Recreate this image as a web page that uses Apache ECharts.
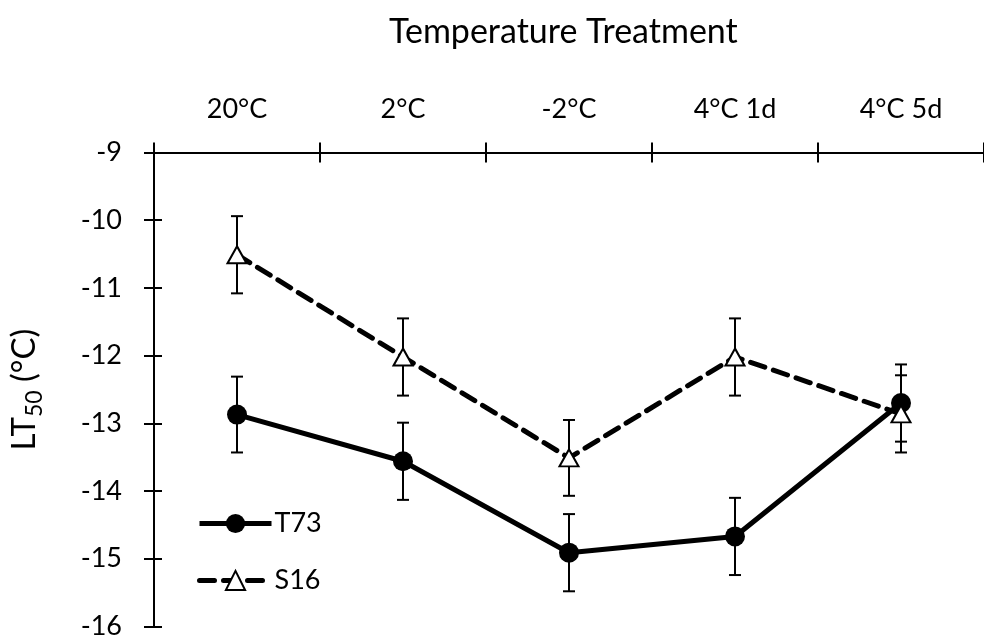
<!DOCTYPE html>
<html>
<head>
<meta charset="utf-8">
<script src="https://cdn.jsdelivr.net/npm/echarts@6/dist/echarts.min.js"></script>
<style>html,body{margin:0;padding:0;background:#fff}#c{width:984px;height:640px}</style>
</head>
<body>
<div id="c"></div>
<script>
const categories = ['20°C', '2°C', '-2°C', '4°C 1d', '4°C 5d'];
const t73 = [-12.87, -13.56, -14.91, -14.67, -12.70];
const t73Err = [0.56, 0.57, 0.57, 0.57, 0.57];
const s16 = [-10.51, -12.02, -13.51, -12.02, -12.86];
const s16Err = [0.57, 0.57, 0.56, 0.57, 0.57];
const yMin = -16, yMax = -9, yStep = 1;

const FONT = 'Lato';
const chart = echarts.init(document.getElementById('c'));

function errData(vals, errs) {
  return vals.map((v, i) => [i, v - errs[i], v + errs[i]]);
}
function errRender(params, api) {
  const x = api.value(0);
  const lo = api.coord([x, api.value(1)]);
  const hi = api.coord([x, api.value(2)]);
  const w = 6;
  const st = { stroke: '#000', lineWidth: 2 };
  return {
    type: 'group',
    children: [
      { type: 'line', shape: { x1: lo[0], y1: lo[1], x2: hi[0], y2: hi[1] }, style: st },
      { type: 'line', shape: { x1: lo[0] - w, y1: lo[1], x2: lo[0] + w, y2: lo[1] }, style: st },
      { type: 'line', shape: { x1: hi[0] - w, y1: hi[1], x2: hi[0] + w, y2: hi[1] }, style: st }
    ]
  };
}

const axisLine = { show: true, lineStyle: { color: '#000', width: 2 } };
const labelStyle = { color: '#000', fontFamily: FONT, fontSize: 27 };

chart.setOption({
  animation: false,
  backgroundColor: '#fff',
  title: {
    text: 'Temperature Treatment',
    left: 384, top: 10,
    textStyle: { color: '#000', fontFamily: FONT, fontSize: 34, fontWeight: 'normal' }
  },
  grid: { left: 154, right: -10, top: 152.5, bottom: 13 },
  legend: {
    orient: 'vertical',
    left: 192, top: 505,
    itemWidth: 72, itemHeight: 24, itemGap: 30,
    lineStyle: { width: 5 },
    textStyle: { color: '#000', fontFamily: FONT, fontSize: 27, padding: [0, 0, 0, -2] },
    data: ['T73', 'S16']
  },
  xAxis: [
    {
      type: 'category', data: categories, position: 'top', boundaryGap: true,
      axisLine: axisLine,
      axisTick: { show: true, inside: false, length: 10, lineStyle: { color: '#000', width: 2 } },
      axisLabel: Object.assign({ margin: 30 }, labelStyle),
      splitLine: { show: false }
    },
    {
      type: 'category', data: categories, position: 'top', boundaryGap: true,
      axisLine: axisLine,
      axisTick: { show: true, inside: true, length: 10, lineStyle: { color: '#000', width: 2 } },
      axisLabel: { show: false },
      splitLine: { show: false }
    }
  ],
  yAxis: [
    {
      type: 'value', min: yMin, max: yMax, interval: yStep, position: 'left',
      axisLine: axisLine,
      axisTick: { show: true, inside: false, length: 10, lineStyle: { color: '#000', width: 2 } },
      axisLabel: Object.assign({ margin: 32 }, labelStyle),
      splitLine: { show: false },
      name: '{a|LT}{b|50}{a| (°C)}',
      nameLocation: 'middle', nameGap: 108, nameRotate: 90,
      nameTextStyle: {
        rich: {
          a: { color: '#000', fontFamily: FONT, fontSize: 33, verticalAlign: 'top', lineHeight: 38 },
          b: { color: '#000', fontFamily: FONT, fontSize: 23, verticalAlign: 'bottom', lineHeight: 22 }
        }
      }
    },
    {
      type: 'value', min: yMin, max: yMax, interval: yStep, position: 'left',
      axisLine: axisLine,
      axisTick: { show: true, inside: true, length: 8, lineStyle: { color: '#000', width: 2 } },
      axisLabel: { show: false },
      splitLine: { show: false }
    }
  ],
  series: [
    {
      type: 'custom', name: 'T73 err', renderItem: errRender, data: errData(t73, t73Err),
      z: 1, silent: true, encode: { x: 0, y: [1, 2] }
    },
    {
      type: 'custom', name: 'S16 err', renderItem: errRender, data: errData(s16, s16Err),
      z: 1, silent: true, encode: { x: 0, y: [1, 2] }
    },
    {
      type: 'line', name: 'T73', data: t73, z: 3,
      symbol: 'circle', symbolSize: 20,
      itemStyle: { color: '#000' },
      lineStyle: { color: '#000', width: 5 }
    },
    {
      type: 'line', name: 'S16', data: s16, z: 4,
      symbol: 'triangle', symbolSize: [19, 17],
      itemStyle: { color: '#fff', borderColor: '#000', borderWidth: 2 },
      lineStyle: { color: '#000', width: 5, type: [15, 9], cap: 'round' }
    }
  ]
});
</script>
</body>
</html>
